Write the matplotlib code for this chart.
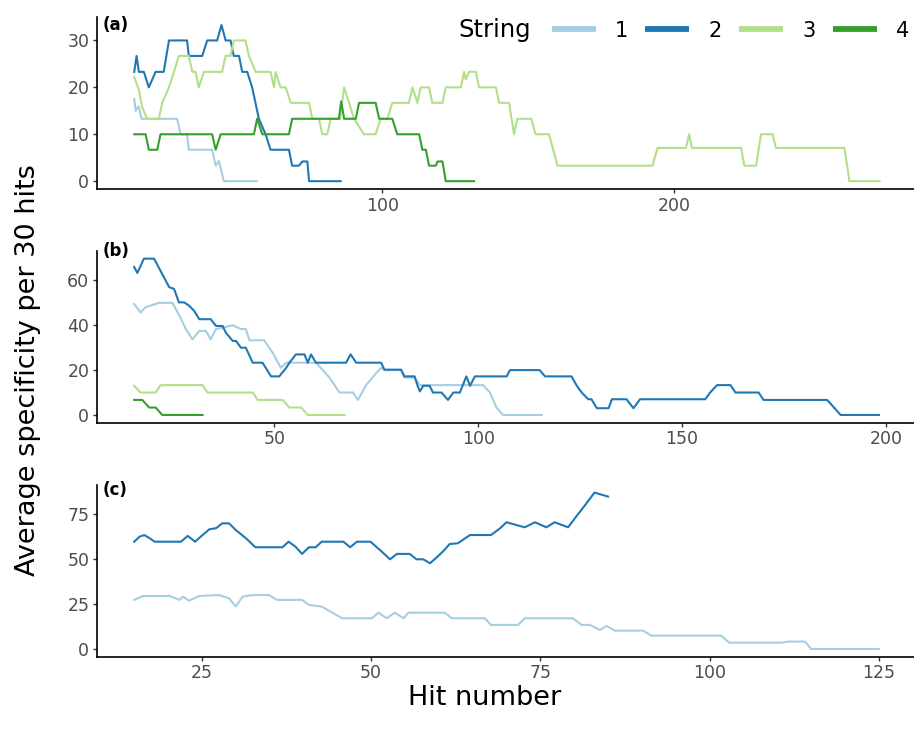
import matplotlib.pyplot as plt
from matplotlib.lines import Line2D

plt.rcParams['font.family'] = 'DejaVu Sans'

colors = ['#A6CEE3', '#1F78B4', '#B2DF8A', '#33A02C']
strings = ['1', '2', '3', '4']

# panel (a)
a1_x = [15, 15.5, 16.5, 17.5, 29.7, 30.9, 33.1, 33.7, 41.7, 42.9, 44, 45.7, 57]
a1_y = [17.5, 15, 16, 13.3, 13.3, 10, 10, 6.7, 6.7, 3.3, 4.3, 0, 0]
a2_x = [15, 15.8, 16.6, 18.3, 20, 22.3, 25.1, 26.9, 33.1, 33.7, 38.3, 40, 43.4, 44.9, 46.3, 48,
        49.1, 50.9, 52, 53.7, 55.4, 57.7, 60, 61.7, 68, 69.1, 71.4, 72.6, 74.3, 74.9, 85.7]
a2_y = [23.3, 26.7, 23.3, 23.3, 20, 23.3, 23.3, 30, 30, 26.7, 26.7, 30, 30, 33.3, 30, 30,
        26.7, 26.7, 23.3, 23.3, 20, 13.3, 10, 6.7, 6.7, 3.3, 3.3, 4.2, 4.2, 0, 0]
a3_x = [15, 16.6, 17.7, 19.4, 23.4, 24.6, 26.9, 28.6, 30.3, 33.7, 34.9, 36, 37.1, 38.9, 45.1,
        46.3, 48, 49.1, 53.1, 54.3, 56.6, 61.7, 62.9, 63.4, 65.1, 66.9, 68.6, 74.9, 76, 78.3,
        79.4, 81.1, 82.3, 85.5, 86.9, 88.6, 90.3, 93.7, 97.7, 99.4, 101.7, 103.4, 109.1, 110.3,
        112, 113.1, 116, 117.1, 120.6, 121.7, 126.9, 128, 128.6, 129.7, 132, 133.1, 138.9, 140,
        143.4, 145.1, 146.2, 151, 152.5, 157.1, 160, 192.5, 194.3, 204, 205.1, 206, 222.9, 224,
        228, 229.7, 233.7, 234.8, 258.3, 260, 270.3]
a3_y = [22.2, 19.4, 15.8, 13.3, 13.3, 16.7, 20, 23.3, 26.7, 26.7, 23.3, 23.3, 20, 23.3, 23.3,
        26.7, 26.7, 30, 30, 26.7, 23.3, 23.3, 20, 23.3, 20, 20, 16.7, 16.7, 13.3, 13.3,
        10, 10, 13.3, 13.3, 20, 16.7, 13.3, 10, 10, 13.3, 13.3, 16.7, 16.7, 20,
        16.7, 20, 20, 16.7, 16.7, 20, 20, 23.3, 21.7, 23.3, 23.3, 20, 20, 16.7,
        16.7, 10, 13.3, 13.3, 10, 10, 3.3, 3.3, 7.1, 7.1, 10, 7.1, 7.1, 3.3,
        3.3, 10, 10, 7.1, 7.1, 0, 0]
a4_x = [15, 18.9, 20, 22.9, 24, 41.7, 42.9, 44.6, 56, 57.1, 58.9, 68, 69.1, 85.1, 85.9, 86.9,
        90.9, 92, 97.7, 98.9, 103.4, 105.1, 112.6, 113.7, 114.9, 116, 118.3, 118.9, 120.6, 121.7, 131.4]
a4_y = [10, 10, 6.7, 6.7, 10, 10, 6.7, 10, 10, 13.3, 10, 10, 13.3, 13.3, 17, 13.3,
        13.3, 16.7, 16.7, 13.3, 13.3, 10, 10, 6.7, 6.7, 3.3, 3.3, 4.2, 4.2, 0, 0]

# panel (b)
b1_x = [15.6, 17.2, 18.4, 21.7, 25, 27, 28.3, 29.9, 31.6, 33.2, 34.4, 35.7, 39.8, 41.8, 43,
        43.9, 47.5, 49.6, 51.6, 52.9, 54.5, 60.2, 61.9, 63.5, 66, 69.3, 70.5, 72.5, 75, 76.2,
        77, 81.1, 81.9, 84.4, 85.7, 101.2, 102.9, 104.5, 106.1, 115.6]
b1_y = [49.5, 45.7, 48, 50, 50, 43.3, 38.3, 33.7, 37.5, 37.5, 33.7, 38.3, 40, 38.3, 38.3,
        33.3, 33.3, 27.7, 21, 23.3, 23.3, 23.3, 20, 16.7, 10, 10, 6.7, 13.3, 18.7, 21,
        20, 20, 16.7, 16.7, 13.3, 13.3, 10, 3.3, 0, 0]
b2_x = [15.6, 16.4, 18, 20.5, 24.2, 25.4, 26.6, 27.9, 29.1, 30.3, 31.6, 34.4, 35.7, 37.3, 38.1,
        39.8, 40.6, 41.8, 43, 44.7, 47.1, 49.2, 51.2, 52.9, 53.7, 55.3, 57.4, 58.2, 59, 60.2,
        67.6, 68.7, 70.1, 76.2, 77, 81.1, 81.9, 84.4, 85.2, 85.7, 86.5, 88.1, 88.9, 91, 92.6,
        93.9, 95.5, 97.1, 98, 99.2, 107, 107.8, 115.1, 116.4, 122.9, 124.2, 125.4, 127, 127.8,
        129.1, 132, 132.8, 136.4, 138.1, 139.7, 155.7, 156.9, 158.6, 161.9, 163.1, 168.8, 170,
        185.6, 187.3, 188.9, 198.3]
b2_y = [66, 63.3, 69.7, 69.7, 57, 56.2, 50.2, 50.2, 48.7, 46.5, 42.7, 42.7, 39.7, 39.7, 36.7,
        33, 33, 30, 30, 23.3, 23.3, 17.2, 17.2, 21, 23.3, 27, 27, 23.3, 27, 23.3,
        23.3, 27, 23.3, 23.3, 20.2, 20.2, 17.2, 17.2, 12.7, 10.5, 13, 13, 10, 10, 6.7,
        10, 10, 17.2, 13, 17.2, 17.2, 20, 20, 17.2, 17.2, 13, 10, 7, 7,
        3, 3, 7, 7, 3, 7, 7, 10, 13.3, 13.3, 10, 10, 6.7,
        6.7, 3.3, 0, 0]
b3_x = [15.6, 17.2, 20.9, 22.1, 32.4, 33.6, 44.7, 45.9, 52, 53.7, 56.6, 58.2, 67.2]
b3_y = [13, 10, 10, 13.3, 13.3, 10, 10, 6.7, 6.7, 3.3, 3.3, 0, 0]
b4_x = [15.6, 17.6, 19.3, 20.9, 22.5, 32.4]
b4_y = [6.7, 6.7, 3.3, 3.3, 0, 0]

# panel (c)
c1_x = [15, 16.3, 20.2, 21.7, 22.2, 23.1, 24.6, 27.5, 29, 30, 31, 32.5, 34.9, 36.1, 39.8,
        40.8, 42.7, 45.7, 50.1, 51.1, 52.3, 53.5, 54.8, 55.5, 60.9, 61.9, 66.8, 67.7, 71.7, 72.7,
        79.8, 81.1, 82.3, 83.8, 84.8, 86, 90.2, 91.4, 101.7, 102.9, 110.6, 111.6, 114.1, 115, 125]
c1_y = [27.3, 29.5, 29.5, 27.3, 29.1, 26.9, 29.5, 30, 28.2, 23.6, 29.1, 30, 30, 27.3, 27.3,
        24.5, 23.6, 17.1, 17.1, 20.2, 17.1, 20.2, 17.1, 20.2, 20.2, 17.1, 17.1, 13.4, 13.4, 17.1,
        17.1, 13.4, 13.4, 10.6, 12.8, 10.2, 10.2, 7.4, 7.4, 3.5, 3.5, 4.1, 4.1, 0, 0]
c2_x = [15, 15.8, 16.5, 17.3, 18, 21.9, 22.9, 24, 25.1, 26.1, 27.1, 28, 29, 30, 31.5,
        32.9, 36.9, 37.8, 38.8, 39.8, 40.8, 41.8, 42.7, 45.9, 46.9, 47.9, 49.9, 51.3, 52.8, 53.8,
        55.7, 56.7, 57.7, 58.7, 59.7, 60.6, 61.6, 62.8, 64.6, 67.7, 69, 70, 72.7, 74.2, 75.9,
        77.1, 79.1, 80.3, 81.6, 83, 85]
c2_y = [59.7, 62.5, 63.4, 61.6, 59.7, 59.7, 62.9, 59.7, 63.4, 66.6, 67.2, 69.9, 69.9, 66.2, 61.6,
        56.6, 56.6, 59.7, 57, 52.9, 56.6, 56.6, 59.7, 59.7, 56.6, 59.7, 59.7, 55.1, 49.9, 52.9,
        52.9, 49.9, 49.9, 47.7, 51, 54.2, 58.4, 58.8, 63.4, 63.4, 67, 70.5, 67.7, 70.5, 67.7,
        70.5, 67.7, 73.7, 80, 87, 84.8]

W, H = 914, 738
fig = plt.figure(figsize=(W / 100, H / 100), dpi=100)


def panel(top, bottom, xlim, ylim, xticks, yticks, tag):
    ax = fig.add_axes([97 / W, 1 - bottom / H, (916 - 97) / W, (bottom - top) / H])
    ax.set_xlim(*xlim)
    ax.set_ylim(*ylim)
    ax.set_xticks(xticks)
    ax.set_yticks(yticks)
    for s in ['top', 'right']:
        ax.spines[s].set_visible(False)
    for s in ['left', 'bottom']:
        ax.spines[s].set_linewidth(1.2)
        ax.spines[s].set_color('black')
    ax.tick_params(length=3, width=1.0, color='#333333', labelcolor='#4D4D4D',
                   labelsize=12.5, pad=2.5)
    ax.patch.set_alpha(0)
    fig.text(103 / W, 1 - tag[1] / H, tag[0], fontsize=12, fontweight='bold',
             va='top', ha='left')
    return ax


ax_a = panel(17, 189, (2.25, 282.8), (-1.67, 35), [100, 200], [0, 10, 20, 30], ('(a)', 16))
ax_b = panel(250.8, 422.8, (6.5, 207.4), (-3.5, 73.2), [50, 100, 150, 200], [0, 20, 40, 60], ('(b)', 242))
ax_c = panel(484.8, 656.8, (9.5, 130.5), (-4.35, 91.35), [25, 50, 75, 100, 125], [0, 25, 50, 75], ('(c)', 481))

lw = 1.5
for xs, ys, c in zip([a1_x, a2_x, a3_x, a4_x], [a1_y, a2_y, a3_y, a4_y], colors):
    ax_a.plot(xs, ys, color=c, lw=lw, solid_joinstyle='round')
for xs, ys, c in zip([b1_x, b2_x, b3_x, b4_x], [b1_y, b2_y, b3_y, b4_y], colors):
    ax_b.plot(xs, ys, color=c, lw=lw, solid_joinstyle='round')
for xs, ys, c in zip([c1_x, c2_x], [c1_y, c2_y], colors[:2]):
    ax_c.plot(xs, ys, color=c, lw=lw, solid_joinstyle='round')

handles = [Line2D([], [], color=c, lw=4.2, solid_capstyle='butt') for c in colors]
fig.legend(handles, strings, loc='center left', bbox_to_anchor=(551.7 / W, 1 - 30.7 / H),
           ncol=4, frameon=False, fontsize=15, handlelength=2.11, handletextpad=0.93,
           columnspacing=0.82, borderpad=0, borderaxespad=0)
fig.text(458 / W, 1 - 37.3 / H, 'String', fontsize=17.5, va='baseline', ha='left')

fig.text(28 / W, 1 - 370 / H, 'Average specificity per 30 hits', fontsize=19.5,
         rotation=90, va='center', ha='center')
fig.text(485 / W, 1 - 705 / H, 'Hit number', fontsize=19.5, va='baseline', ha='center')

fig.savefig('out.png', dpi=100)
